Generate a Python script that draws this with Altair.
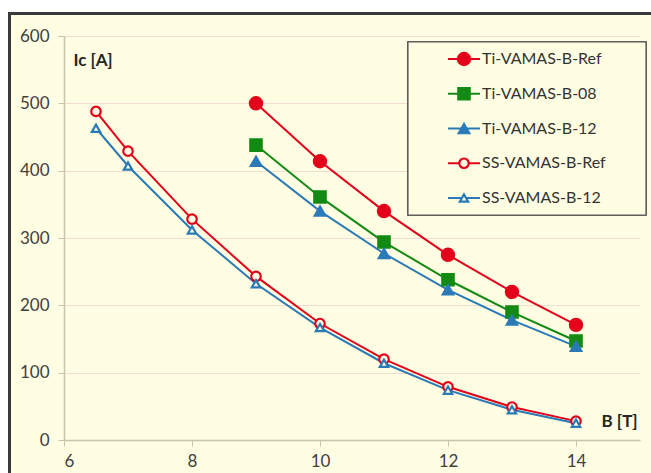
import altair as alt
import pandas as pd

# Critical current vs. field for the VAMAS-B samples
B_ti = [9, 10, 11, 12, 13, 14]
ti_ref = [500, 414, 340, 275, 220, 171]
ti_08 = [438, 361, 294, 238, 190, 147]
ti_12 = [414, 340, 277, 223, 178, 139]

B_ss = [6.5, 7, 8, 9, 10, 11, 12, 13, 14]
ss_ref = [488, 429, 328, 243, 173, 120, 79, 49, 28]
ss_12 = [463, 407, 312, 232, 167, 114, 74, 45, 25]

series = ["Ti-VAMAS-B-Ref", "Ti-VAMAS-B-08", "Ti-VAMAS-B-12",
          "SS-VAMAS-B-Ref", "SS-VAMAS-B-12"]

BG = "#FFFDE2"
RED, GREEN, BLUE = "#E2001A", "#138A13", "#2A7AB8"
strokes = [RED, GREEN, BLUE, RED, BLUE]
fills = [RED, GREEN, BLUE, BG, BG]
shapes = ["circle", "square", "triangle-up", "circle", "triangle-up"]
sizes = [150, 70, 100, 115, 100]

rows = []
for name, xs, ys in [
    (series[0], B_ti, ti_ref),
    (series[1], B_ti, ti_08),
    (series[2], B_ti, ti_12),
    (series[3], B_ss, ss_ref),
    (series[4], B_ss, ss_12),
]:
    for b, ic in zip(xs, ys):
        rows.append({"series": name, "B": b, "Ic": ic})
df = pd.DataFrame(rows)
legend_df = pd.DataFrame({"series": series})

FONT = "Lato"
W, H = 576, 404
PAD_L, PAD_T, PAD_R, PAD_B = 64, 36, 11, 33

stroke_scale = alt.Scale(domain=series, range=strokes)
fill_scale = alt.Scale(domain=series, range=fills)
shape_scale = alt.Scale(domain=series, range=shapes)
size_scale = alt.Scale(domain=series, range=sizes)

x_enc = alt.X(
    "B:Q",
    scale=alt.Scale(domain=[6, 15], nice=False, zero=False),
    axis=alt.Axis(
        values=[6, 8, 10, 12, 14], grid=False, title="B [T]",
        titleAngle=0, titleAlign="left", titleBaseline="middle",
        titleX=537, titleY=-19, titleFont=FONT, titleFontSize=17,
        titleFontWeight="bold", titleColor="#262626",
        labelFont=FONT, labelFontSize=17, labelColor="#404040",
        labelPadding=7, tickSize=6, tickColor="#C9C2AE",
        domainColor="#C9C2AE", domainWidth=1.5,
    ),
)
y_enc = alt.Y(
    "Ic:Q",
    scale=alt.Scale(domain=[0, 600], nice=False),
    axis=alt.Axis(
        values=[0, 100, 200, 300, 400, 500, 600], grid=True,
        gridColor="#F5DCD2", gridWidth=1, title="Ic [A]",
        titleAngle=0, titleAlign="left", titleBaseline="middle",
        titleX=9, titleY=24, titleFont=FONT, titleFontSize=17,
        titleFontWeight="bold", titleColor="#262626",
        labelFont=FONT, labelFontSize=17, labelColor="#404040",
        labelPadding=9, tickSize=6, tickColor="#C9C2AE",
        domainColor="#C9C2AE", domainWidth=1.5,
    ),
)

# Chart frame: white margin outside a dark left/top border
margin_left = alt.Chart(legend_df).mark_rect(fill="white", clip=False).encode(
    x=alt.value(-PAD_L), x2=alt.value(-54.5),
    y=alt.value(-PAD_T), y2=alt.value(H + PAD_B),
)
margin_top = alt.Chart(legend_df).mark_rect(fill="white", clip=False).encode(
    x=alt.value(-PAD_L), x2=alt.value(W + PAD_R),
    y=alt.value(-PAD_T), y2=alt.value(-22.5),
)
border_left = alt.Chart(legend_df).mark_rule(
    color="#3A3A3A", strokeWidth=3, clip=False
).encode(
    x=alt.value(-54.5), y=alt.value(-24), y2=alt.value(H + PAD_B),
)
border_top = alt.Chart(legend_df).mark_rule(
    color="#3A3A3A", strokeWidth=3, clip=False
).encode(
    x=alt.value(-56), x2=alt.value(W + PAD_R), y=alt.value(-22.5),
)

base = alt.Chart(df).encode(x=x_enc, y=y_enc)
lines = base.mark_line(strokeWidth=2).encode(
    color=alt.Color("series:N", scale=stroke_scale, legend=None),
    detail="series:N",
)
points = base.mark_point(filled=False, strokeWidth=2.2, opacity=1).encode(
    stroke=alt.Stroke("series:N", scale=stroke_scale, legend=None),
    fill=alt.Fill("series:N", scale=fill_scale, legend=None),
    shape=alt.Shape("series:N", scale=shape_scale, legend=None),
    size=alt.Size("series:N", scale=size_scale, legend=None),
    fillOpacity=alt.value(1),
)
data_layer = alt.layer(lines, points)

# Legend, drawn as its own layer
leg_y = alt.Y("series:N", scale=alt.Scale(type="point", domain=series,
                                          range=[23, 162], padding=0),
              axis=None)
leg_box = alt.Chart(legend_df).mark_rect(
    fill=BG, stroke="#5A5A5A", strokeWidth=1.2, clip=False
).encode(
    x=alt.value(344), x2=alt.value(582), y=alt.value(6), y2=alt.value(179),
)
leg_rule = alt.Chart(legend_df).mark_rule(strokeWidth=2, clip=False).encode(
    x=alt.value(384), x2=alt.value(416), y=leg_y,
    color=alt.Color("series:N", scale=stroke_scale, legend=None),
)
leg_pt = alt.Chart(legend_df).mark_point(filled=False, strokeWidth=2.2,
                                         opacity=1, clip=False).encode(
    x=alt.value(400), y=leg_y,
    stroke=alt.Stroke("series:N", scale=stroke_scale, legend=None),
    fill=alt.Fill("series:N", scale=fill_scale, legend=None),
    shape=alt.Shape("series:N", scale=shape_scale, legend=None),
    size=alt.Size("series:N", scale=size_scale, legend=None),
    fillOpacity=alt.value(1),
)
leg_txt = alt.Chart(legend_df).mark_text(
    align="left", baseline="middle", font=FONT, fontSize=16,
    color="#333333", clip=False,
).encode(x=alt.value(418), y=leg_y, text="series:N")

legend = alt.layer(leg_box, leg_rule, leg_pt, leg_txt)

chart = alt.layer(
    margin_left, margin_top, border_left, border_top, data_layer, legend
).resolve_scale(y="independent").properties(
    width=W, height=H,
    autosize=alt.AutoSizeParams(type="none"),
    padding={"left": PAD_L, "top": PAD_T, "right": PAD_R, "bottom": PAD_B},
    background=BG,
).configure_view(stroke=None)

chart.save("out.html", embed_options={"renderer": "svg", "actions": False})
